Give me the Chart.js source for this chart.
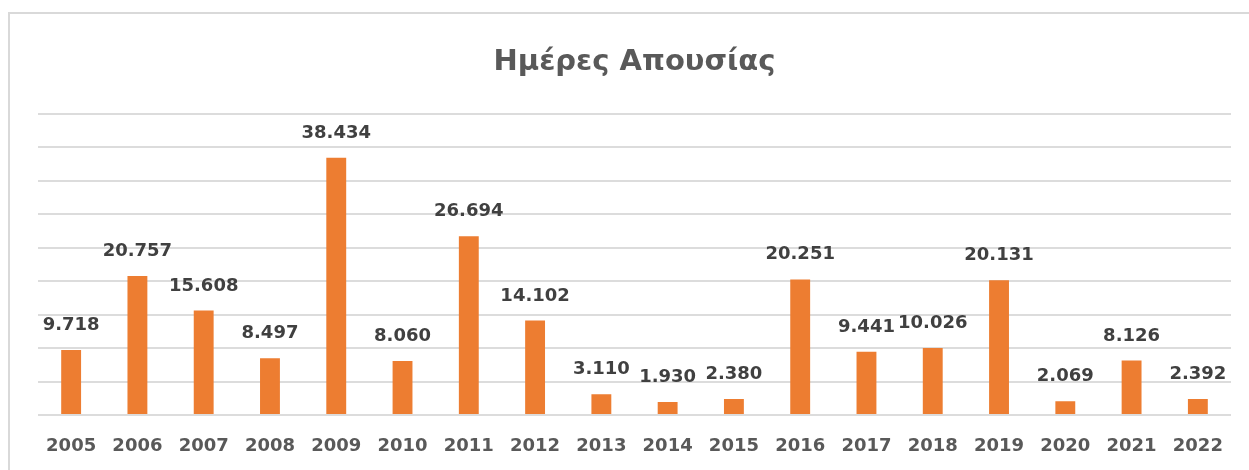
<!DOCTYPE html>
<html lang="el">
<head>
    <meta charset="UTF-8">
    <title>Ημέρες Απουσίας</title>
    <script src="https://cdn.jsdelivr.net/npm/chart.js"></script>
    <style>
        html, body { margin: 0; padding: 0; background: #fff; }
        #wrap { width: 1249px; height: 470px; position: relative; }
    </style>
</head>
<body>
<div id="wrap"><canvas id="absChart"></canvas></div>
<script>
    // data
    const years = ['2005', '2006', '2007', '2008', '2009', '2010', '2011', '2012', '2013',
                   '2014', '2015', '2016', '2017', '2018', '2019', '2020', '2021', '2022'];
    const absenceDays = [9718, 20757, 15608, 8497, 38434, 8060, 26694, 14102, 3110,
                         1930, 2380, 20251, 9441, 10026, 20131, 2069, 8126, 2392];
    const yMax = 45000;
    const yStep = 5000;

    // greek style thousands separator: 9.718
    function fmt(v) {
        return v.toString().replace(/\B(?=(\d{3})+(?!\d))/g, '.');
    }

    // frame around the chart (left and top edges only are visible)
    const framePlugin = {
        id: 'frame',
        beforeDraw(chart) {
            const ctx = chart.ctx;
            ctx.save();
            ctx.strokeStyle = '#d9d9d9';
            ctx.lineWidth = 2;
            ctx.beginPath();
            ctx.moveTo(9, 470);
            ctx.lineTo(9, 13);
            ctx.lineTo(1249, 13);
            ctx.stroke();
            ctx.restore();
        }
    };

    // value labels above the bars
    const valueLabels = {
        id: 'valueLabels',
        afterDatasetsDraw(chart) {
            const ctx = chart.ctx;
            const meta = chart.getDatasetMeta(0);
            ctx.save();
            ctx.font = 'bold 18px "DejaVu Sans"';
            ctx.fillStyle = '#404040';
            ctx.textAlign = 'center';
            ctx.textBaseline = 'alphabetic';
            meta.data.forEach((bar, i) => {
                ctx.fillText(fmt(absenceDays[i]), bar.x, bar.y - 20);
            });
            ctx.restore();
        }
    };

    new Chart(document.getElementById('absChart'), {
        type: 'bar',
        data: {
            labels: years,
            datasets: [{
                data: absenceDays,
                backgroundColor: '#ED7D31',
                barPercentage: 0.3,
                categoryPercentage: 1
            }]
        },
        options: {
            responsive: true,
            maintainAspectRatio: false,
            animation: false,
            layout: { padding: { left: 38, right: 18, top: 0, bottom: 12 } },
            plugins: {
                legend: { display: false },
                tooltip: { enabled: false },
                title: {
                    display: true,
                    text: 'Ημέρες Απουσίας',
                    color: '#595959',
                    font: { family: 'DejaVu Sans', size: 29, weight: 'bold' },
                    padding: { top: 45, bottom: 34 }
                }
            },
            scales: {
                x: {
                    grid: { display: false, drawTicks: false },
                    border: { display: false },
                    ticks: {
                        color: '#595959',
                        font: { family: 'DejaVu Sans', size: 18, weight: 'bold' },
                        padding: 21,
                        maxRotation: 0
                    },
                    afterFit(scale) {
                        scale.height = 43;
                    }
                },
                y: {
                    min: 0,
                    max: yMax,
                    ticks: { display: false, stepSize: yStep },
                    border: { display: false },
                    grid: { color: '#dcdcdc', lineWidth: 2, drawTicks: false }
                }
            }
        },
        plugins: [framePlugin, valueLabels]
    });
</script>
</body>
</html>
